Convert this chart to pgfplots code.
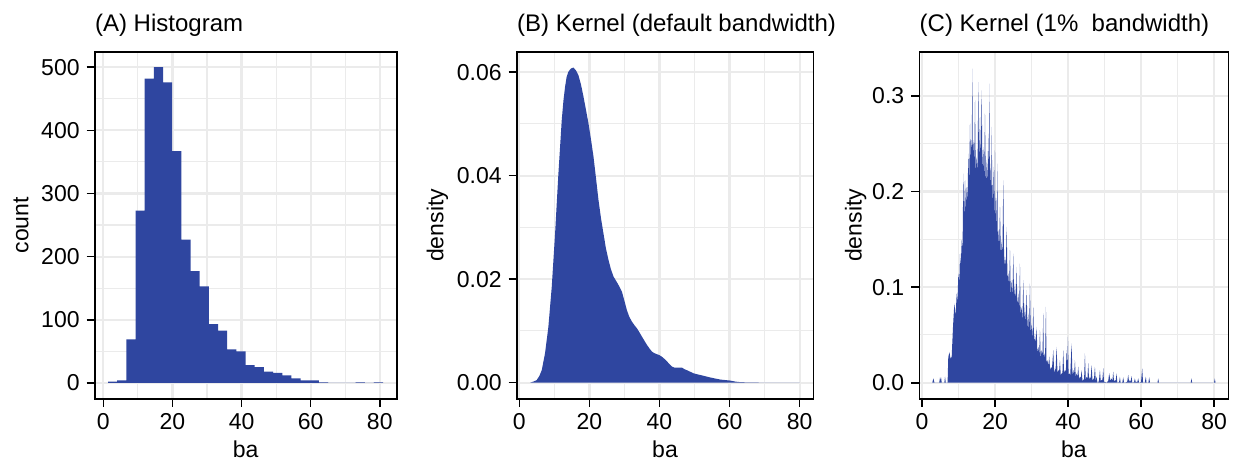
\documentclass[border=0pt]{standalone}
\usepackage{fontspec}
\setmainfont{Liberation Sans}
\usepackage{pgfplots}
\usepackage{pgfplotstable}
\pgfplotsset{compat=1.18}

\definecolor{barblue}{RGB}{47,70,160}
\definecolor{gridgray}{RGB}{235,235,235}
\newcommand\fs{\fontsize{11.5pt}{13.8pt}\selectfont}
\newcommand\tfs{\fontsize{12pt}{14.4pt}\selectfont}

% histogram of ba: left bin edge, count (last row closes the final bin)
\pgfplotstableread{
x y
1.35 2
4.00 4
6.66 69
9.31 273
11.97 482
14.62 500
17.27 476
19.93 367
22.58 227
25.24 177
27.89 153
30.54 93
33.20 83
35.85 53
38.51 50
41.16 28
43.81 25
46.47 18
49.12 16
51.78 12
54.43 7
57.08 4
59.74 4
62.39 1
65.05 0
67.70 0
70.35 0
73.01 1
75.66 0
78.32 1
80.97 1
}\histA

% kernel density, default bandwidth
\pgfplotstableread{
x y
3.05 0
4.00 0.0002
4.96 0.0005
5.72 0.0013
6.39 0.0024
7.34 0.0057
8.29 0.0108
9.25 0.0185
10.20 0.0288
11.15 0.0404
12.10 0.0507
12.60 0.0546
13.06 0.0572
13.50 0.0591
14.01 0.0601
14.70 0.0607
15.44 0.0609
16.20 0.0603
16.87 0.0594
17.60 0.0576
18.30 0.0553
19.00 0.0528
19.73 0.0501
20.45 0.0470
21.16 0.0437
21.90 0.0394
22.59 0.0353
23.30 0.0318
24.02 0.0288
24.70 0.0260
25.45 0.0237
26.15 0.0219
26.88 0.0205
27.50 0.0198
28.03 0.0192
28.60 0.0185
29.27 0.0176
30.00 0.0158
30.70 0.0140
31.40 0.0127
32.13 0.0118
32.85 0.0111
33.56 0.0105
34.30 0.0097
34.99 0.0089
35.70 0.0081
36.42 0.0073
37.15 0.0066
37.85 0.0060
38.55 0.0057
39.28 0.0055
40.00 0.0053
40.71 0.0050
41.40 0.0046
42.14 0.0041
42.85 0.0036
43.57 0.0031
44.30 0.0029
45.00 0.0029
45.70 0.0029
46.43 0.0029
47.15 0.0026
47.86 0.0024
48.80 0.0021
49.76 0.0018
50.90 0.0016
52.15 0.0014
53.30 0.0012
54.53 0.0010
55.90 0.0008
57.39 0.0006
58.80 0.0005
60.25 0.0004
61.70 0.0002
63.11 0.0001
65.97 0.00005
69.78 0.00002
75.00 0.00001
80.08 0
}\kdeB

% kernel density, 1% bandwidth
\pgfplotstableread{
x y
2.80 0
3.10 0.0045
3.40 0
4.70 0
4.93 0.0056
5.07 0.0020
5.20 0.0056
5.40 0
6.10 0
6.30 0.0063
6.50 0
7.00 0
7.21 0.0300
7.35 0.0260
7.48 0.0324
7.80 0.0250
8.12 0.0272
8.50 0.0600
8.85 0.0829
9.20 0.0700
9.49 0.0934
9.70 0.0850
9.95 0.1143
10.20 0.1050
10.40 0.1352
10.60 0.1200
10.86 0.1491
11.10 0.1400
11.31 0.2188
11.50 0.1700
11.77 0.2118
12.00 0.1800
12.23 0.2049
12.45 0.1900
12.68 0.2397
12.90 0.2100
13.14 0.2711
13.30 0.2300
13.41 0.2537
13.60 0.2400
13.78 0.3286
13.90 0.2400
14.05 0.2537
14.30 0.2300
14.51 0.2955
14.70 0.2200
14.96 0.2362
15.20 0.2200
15.42 0.3146
15.60 0.2300
15.88 0.2780
16.10 0.2300
16.33 0.3059
16.55 0.2200
16.79 0.2467
17.00 0.2100
17.24 0.2815
17.50 0.2000
17.70 0.2328
17.90 0.2100
18.16 0.2606
18.30 0.2000
18.43 0.3129
18.60 0.2000
18.80 0.2293
18.95 0.1900
19.07 0.2676
19.30 0.1800
19.53 0.2258
19.75 0.1700
19.98 0.2432
20.10 0.1600
20.26 0.1909
20.45 0.1600
20.62 0.2293
20.75 0.1500
20.89 0.1596
21.10 0.1400
21.35 0.1840
21.60 0.1300
21.81 0.1491
22.00 0.1300
22.26 0.2118
22.50 0.1200
22.72 0.1317
22.95 0.1200
23.18 0.1631
23.40 0.1100
23.63 0.1143
23.85 0.1000
24.09 0.1387
24.30 0.0900
24.54 0.1073
24.75 0.0900
25.00 0.1352
25.20 0.0900
25.46 0.1038
25.70 0.0850
25.91 0.1213
26.10 0.0800
26.37 0.0934
26.60 0.0750
26.82 0.1247
27.00 0.0700
27.28 0.0794
27.50 0.0650
27.74 0.1073
27.95 0.0650
28.19 0.0829
28.40 0.0600
28.65 0.0969
28.90 0.0550
29.11 0.0725
29.30 0.0500
29.56 0.1038
29.80 0.0500
30.02 0.0620
30.25 0.0450
30.47 0.0794
30.70 0.0400
30.93 0.0516
31.15 0.0400
31.39 0.0585
31.60 0.0300
31.84 0.0376
32.10 0.0300
32.30 0.0551
32.50 0.0250
32.76 0.0341
33.00 0.0300
33.21 0.0725
33.35 0.0250
33.49 0.0307
33.70 0.0250
33.94 0.0794
34.10 0.0200
34.31 0.0237
34.60 0.0180
34.85 0.0272
35.10 0.0120
35.31 0.0167
35.60 0.0150
35.95 0.0341
36.20 0.0100
36.41 0.0132
36.60 0.0150
36.86 0.0376
37.10 0.0100
37.32 0.0132
37.55 0.0120
37.77 0.0237
38.00 0.0080
38.23 0.0098
38.45 0.0100
38.69 0.0341
38.90 0.0100
39.14 0.0132
39.40 0.0120
39.60 0.0341
39.80 0.0150
39.96 0.0481
40.15 0.0080
40.33 0.0098
40.60 0.0080
40.97 0.0411
41.20 0.0070
41.42 0.0132
41.65 0.0080
41.88 0.0237
42.10 0.0060
42.34 0.0098
42.55 0.0060
42.79 0.0167
43.00 0.0040
43.25 0.0063
43.50 0.0050
43.70 0.0132
43.95 0.0020
44.16 0.0028
44.40 0.0040
44.62 0.0307
44.85 0.0030
45.07 0.0063
45.30 0.0040
45.53 0.0202
45.75 0.0030
45.99 0.0063
46.20 0.0040
46.44 0.0185
46.70 0.0020
46.90 0.0045
47.10 0.0030
47.35 0.0167
47.60 0.0020
47.81 0.0063
48.05 0
48.27 0
48.50 0.0030
48.72 0.0132
48.95 0.0020
49.18 0.0028
49.40 0.0030
49.64 0.0150
49.85 0.0010
50.09 0.0010
50.55 0
51.00 0.0020
51.28 0.0098
51.60 0.0020
51.92 0.0045
52.15 0.0020
52.37 0.0115
52.60 0.0010
52.83 0.0028
53.05 0.0020
53.28 0.0098
53.50 0
53.74 0
54.00 0.0010
54.20 0.0063
54.40 0
54.65 0
54.90 0.0010
55.11 0.0056
55.35 0
55.57 0
56.20 0.0010
56.48 0.0081
56.70 0.0010
56.93 0.0028
57.15 0.0010
57.39 0.0070
57.60 0
57.85 0
58.10 0.0010
58.30 0.0045
58.50 0.0010
58.76 0.0010
59.00 0.0010
59.22 0.0045
59.45 0
59.67 0
60.00 0.0010
60.31 0.0150
60.55 0
61.00 0
61.31 0.0063
61.50 0
62.00 0
62.23 0.0056
62.45 0
64.50 0
64.69 0.0045
64.90 0
73.60 0
73.81 0.0045
74.00 0
80.00 0
80.20 0.0045
80.40 0
}\kdeC

\pgfplotsset{
  panel/.style={
    scale only axis,
    height=173.35pt,
    axis line style={black, line width=0.8pt},
    tick align=outside,
    tick pos=left,
    major tick length=4pt,
    minor tick length=0pt,
    tick style={black, line width=0.8pt},
    grid=both,
    major grid style={gridgray, line width=1.1pt},
    minor grid style={gridgray, line width=0.55pt},
    minor x tick num=1,
    minor y tick num=1,
    xtick={0,20,40,60,80},
    scaled ticks=false,
    /pgf/number format/assume math mode=true,
    /pgf/number format/1000 sep={},
    tick label style={font=\fs},
    label style={font=\fs},
    every axis title shift=0pt,
    title style={font=\tfs, inner sep=0pt, anchor=base west,
      at={(axis description cs:0,1.0585)}},
    xticklabel style={anchor=base, inner sep=0pt, yshift=-11.3pt},
    yticklabel style={anchor=east, inner sep=0pt, xshift=-3.35pt},
    xlabel=ba,
    xlabel style={at={(axis description cs:0.5,-0.1682)}, anchor=base},
  }
}

\begin{document}
\begin{tikzpicture}
\useasboundingbox (0,0) rectangle (617pt,230.5pt);

% (A) histogram
\begin{axis}[panel,
  at={(47.35pt,31.15pt)}, anchor=south west, width=151pt,
  xmin=-2.5, xmax=84.9, ymin=-25, ymax=524,
  ytick={0,100,200,300,400,500},
  ylabel=count,
  ylabel style={at={(axis description cs:-0.2199,0.5)}, anchor=base},
  title={(A) Histogram}]
\addplot[const plot mark left, fill=barblue, draw=none] table {\histA} \closedcycle;
\end{axis}

% (B) kernel density, default bandwidth
\begin{axis}[panel,
  at={(258.35pt,31.15pt)}, anchor=south west, width=148.3pt,
  xmin=-0.75, xmax=83.9, ymin=-0.0031, ymax=0.0639,
  ytick={0,0.02,0.04,0.06},
  yticklabel style={/pgf/number format/.cd, fixed, fixed zerofill, precision=2},
  ylabel=density,
  ylabel style={at={(axis description cs:-0.2475,0.5)}, anchor=base},
  title={(B) Kernel (default bandwidth)}]
\addplot[fill=barblue, draw=none] table {\kdeB} \closedcycle;
\end{axis}

% (C) kernel density, 1% bandwidth
\begin{axis}[panel,
  at={(459.65pt,31.15pt)}, anchor=south west, width=154.5pt,
  xmin=-0.75, xmax=83.9, ymin=-0.0167, ymax=0.346,
  ytick={0,0.1,0.2,0.3},
  yticklabel style={/pgf/number format/.cd, fixed, fixed zerofill, precision=1},
  ylabel=density,
  ylabel style={at={(axis description cs:-0.1864,0.5)}, anchor=base},
  title={(C) Kernel (1\%\ \ bandwidth)}]
\addplot[fill=barblue, draw=none] table {\kdeC} \closedcycle;
\end{axis}
\end{tikzpicture}
\end{document}
